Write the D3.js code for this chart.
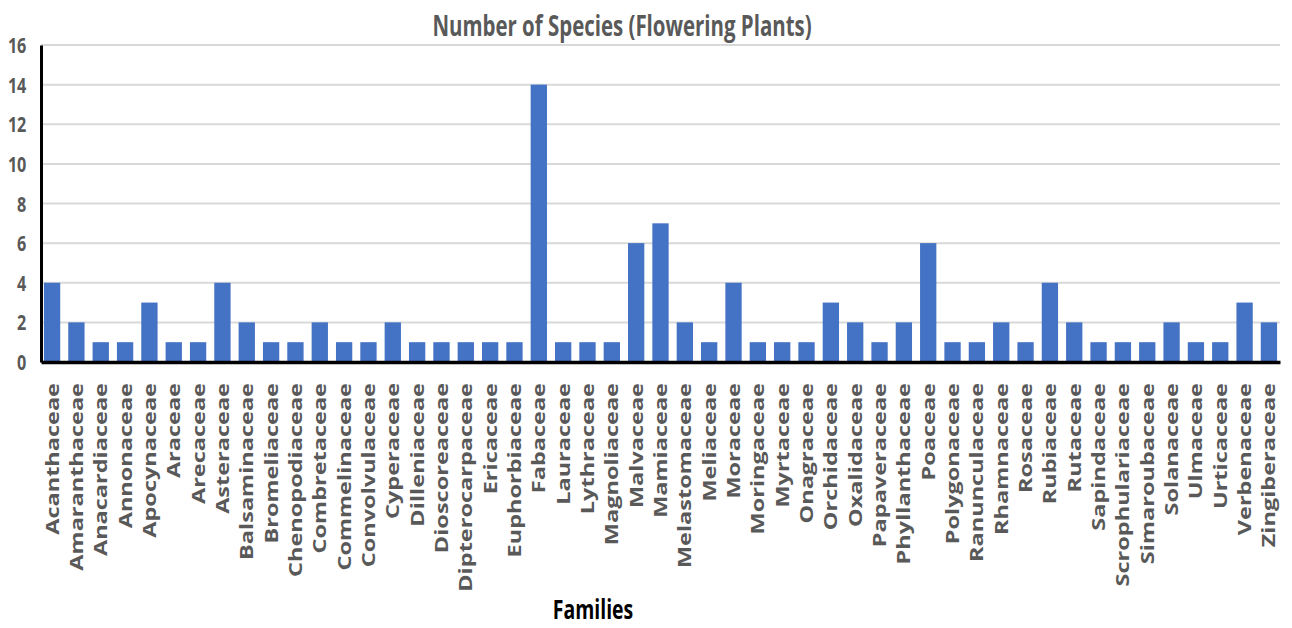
<!DOCTYPE html>
<html><head><meta charset="utf-8">
<script src="https://cdn.jsdelivr.net/npm/d3@7"></script>
<style>body{margin:0;background:#fff}</style>
</head><body>
<svg id="c" width="1292" height="628"></svg>
<script>
const families = ["Acanthaceae","Amaranthaceae","Anacardiaceae","Annonaceae","Apocynaceae","Araceae","Arecaceae","Asteraceae","Balsaminaceae","Bromeliaceae","Chenopodiaceae","Combretaceae","Commelinaceae","Convolvulaceae","Cyperaceae","Dilleniaceae","Dioscoreaceae","Dipterocarpaceae","Ericaceae","Euphorbiaceae","Fabaceae","Lauraceae","Lythraceae","Magnoliaceae","Malvaceae","Mamiaceae","Melastomaceae","Meliaceae","Moraceae","Moringaceae","Myrtaceae","Onagraceae","Orchidaceae","Oxalidaceae","Papaveraceae","Phyllanthaceae","Poaceae","Polygonaceae","Ranunculaceae","Rhamnaceae","Rosaceae","Rubiaceae","Rutaceae","Sapindaceae","Scrophulariaceae","Simaroubaceae","Solanaceae","Ulmaceae","Urticaceae","Verbenaceae","Zingiberaceae"];
const species = [4,2,1,1,3,1,1,4,2,1,1,2,1,1,2,1,1,1,1,1,14,1,1,1,6,7,2,1,4,1,1,1,3,2,1,2,6,1,1,2,1,4,2,1,1,1,2,1,1,3,2];
const yTicks = [0,2,4,6,8,10,12,14,16];
const title = "Number of Species (Flowering Plants)";
const xTitle = "Families";

const svg = d3.select("#c");
const L = 41, R = 1280, T = 45, B = 362;
const SX = 0.77; // horizontal squeeze seen in the reference text
const x = d3.scaleBand().domain(families).range([L, R]).paddingInner(0.33).paddingOuter(0.12);
const y = d3.scaleLinear().domain([0,16]).range([B, T]);
const font = "'Open Sans','DejaVu Sans',sans-serif";

// gridlines
svg.append("g").selectAll("line").data(yTicks.filter(d=>d>0)).join("line")
  .attr("x1", L).attr("x2", R).attr("y1", d=>y(d)).attr("y2", d=>y(d))
  .attr("stroke", "#d9d9d9").attr("stroke-width", 2);

// bars
svg.append("g").selectAll("rect").data(families).join("rect")
  .attr("x", d=>x(d)).attr("width", x.bandwidth())
  .attr("y", (d,i)=>y(species[i])).attr("height", (d,i)=>B - y(species[i]))
  .attr("fill", "#4472c4");

// y axis
const ya = svg.append("g").attr("transform", `translate(${L},0)`)
  .call(d3.axisLeft(y).tickValues(yTicks).tickSize(0));
ya.select(".domain").attr("stroke", "#000").attr("stroke-width", 3);
ya.selectAll("text").attr("font-family", font).attr("font-weight", "bold")
  .attr("font-size", 21).attr("fill", "#595959")
  .attr("x", -19).attr("dy", "0.36em").attr("transform", `scale(${SX},1)`);

// x axis
const xa = svg.append("g").attr("transform", `translate(0,${B})`)
  .call(d3.axisBottom(x).tickSize(0).tickPadding(0));
xa.select(".domain").attr("stroke", "#000").attr("stroke-width", 3.5);
xa.selectAll("text")
  .attr("font-family", font).attr("font-weight", "bold")
  .attr("font-size", 23.5).attr("fill", "#595959")
  .attr("transform", `scale(${SX},1) rotate(-90)`)
  .attr("text-anchor", "end").attr("dy", "0.36em").attr("x", -21).attr("y", 0);

// title
svg.append("text").attr("transform", `translate(622,36) scale(0.73,1)`).attr("text-anchor", "middle")
  .attr("font-family", font).attr("font-weight", "bold").attr("font-size", 28)
  .attr("fill", "#595959").text(title);

// x title
svg.append("text").attr("transform", `translate(593,619) scale(0.72,1)`).attr("text-anchor", "middle")
  .attr("font-family", font).attr("font-weight", "bold").attr("font-size", 27)
  .attr("fill", "#000").text(xTitle);
</script>
</body></html>
